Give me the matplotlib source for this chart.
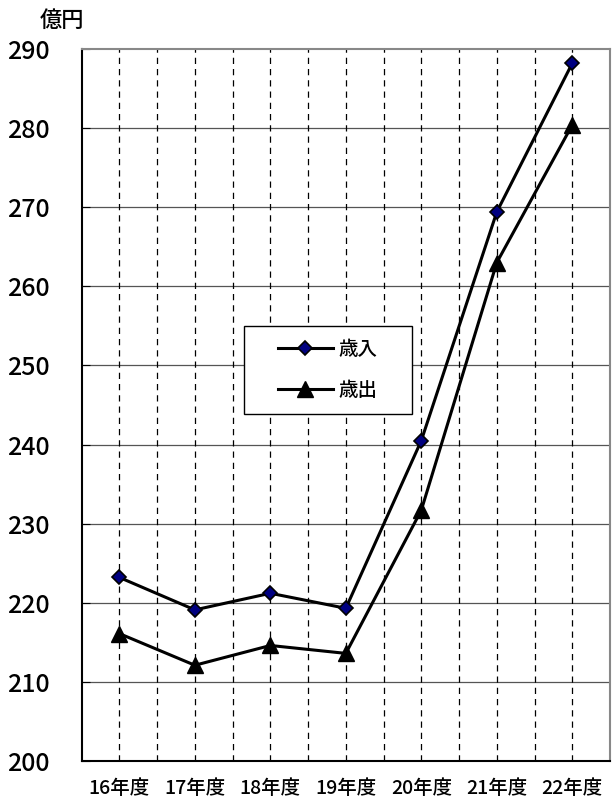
import matplotlib
matplotlib.use("Agg")
import matplotlib.pyplot as plt
from matplotlib.patches import Rectangle
import numpy as np

plt.rcParams['font.family'] = ['Noto Sans CJK JP', 'DejaVu Sans']

years = ['16年度', '17年度', '18年度', '19年度', '20年度', '21年度', '22年度']
revenue = [223.2, 219.1, 221.2, 219.3, 240.5, 269.4, 288.2]   # 歳入
expense = [216.1, 212.1, 214.6, 213.6, 231.7, 263.0, 280.4]   # 歳出
yticks = [200, 210, 220, 230, 240, 250, 260, 270, 280, 290]

fig = plt.figure(figsize=(6.14, 7.98), dpi=100)
ax = fig.add_axes([0.133, 0.0464, 0.8605, 0.8922])

x = np.arange(len(years)) + 0.5

# grid
for yv in yticks[1:-1]:
    ax.axhline(yv, color='#555555', lw=0.9, zorder=1)
for xv in np.arange(0.5, len(years), 0.5):
    ax.axvline(xv, color='black', lw=0.9, ls=(0, (5, 4)), zorder=1)

ax.plot(x, revenue, color='black', lw=2.2, marker='D', markersize=7.5,
        markerfacecolor='#000080', markeredgecolor='black', markeredgewidth=1.2,
        label='歳入', zorder=3)
ax.plot(x, expense, color='black', lw=2.2, marker='^', markersize=11,
        markerfacecolor='black', markeredgecolor='black',
        label='歳出', zorder=3)

ax.set_xlim(0, len(years))
ax.set_ylim(200, 290)
ax.set_yticks(yticks)
ax.set_yticklabels([str(v) for v in yticks], fontsize=18, fontweight='medium')
ax.set_xticks(x)
ax.set_xticklabels(years, fontsize=14, fontweight='medium')
ax.tick_params(axis='x', length=0, pad=13)
ax.tick_params(axis='y', length=6, direction='in', pad=23)

ax.spines['left'].set_color('black')
ax.spines['left'].set_linewidth(1.5)
ax.spines['bottom'].set_color('black')
ax.spines['bottom'].set_linewidth(1.5)
ax.spines['top'].set_color('#888888')
ax.spines['top'].set_linewidth(1.5)
ax.spines['right'].set_color('#888888')
ax.spines['right'].set_linewidth(1.5)

# legend box
ax.add_patch(Rectangle((0.307, 0.487), 0.318, 0.124, transform=ax.transAxes,
                       facecolor='white', edgecolor='black', lw=1.0, zorder=4))
leg = ax.legend(loc='center', bbox_to_anchor=(0.466, 0.549), frameon=False,
                prop={'size': 14, 'weight': 'medium'},
                handlelength=2.8, borderpad=0, labelspacing=1.15,
                borderaxespad=0, handletextpad=0.3)
leg.set_zorder(5)

fig.text(0.065, 0.974, '億円', fontsize=16, fontweight='medium', va='center')

fig.savefig('out.png', dpi=100)
